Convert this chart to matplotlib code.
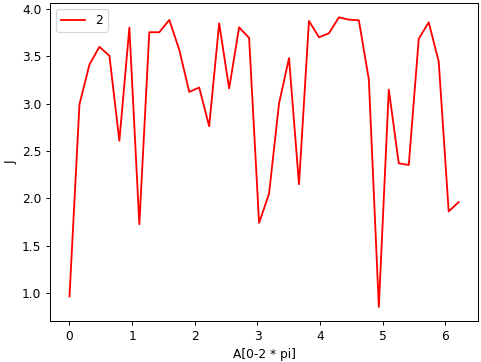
import numpy as np
import matplotlib
matplotlib.use("Agg")
import matplotlib.pyplot as plt

# valores
x_max = 6.21
n_puntos = 40
js = [0.964, 2.993, 3.413, 3.601, 3.507, 2.608, 3.804, 1.727, 3.755, 3.755,
      3.885, 3.570, 3.125, 3.171, 2.762, 3.849, 3.161, 3.807, 3.695, 1.741,
      2.049, 3.003, 3.482, 2.150, 3.874, 3.702, 3.744, 3.912, 3.888, 3.881,
      3.255, 0.853, 3.150, 2.370, 2.353, 3.685, 3.860, 3.447, 1.862, 1.961]

angulos = np.linspace(0, x_max, n_puntos)

dpi = 88
fig = plt.figure(figsize=(481 / dpi, 362 / dpi), dpi=dpi)
ax = fig.add_subplot(111)
fig.subplots_adjust(left=0.104, right=0.994, top=0.992, bottom=0.112)

ax.plot(angulos, js, color="red", label="2")
ax.set_xlabel("A[0-2 * pi]")
ax.set_ylabel("J")
ax.legend(loc="upper left")

fig.savefig("out.png")
